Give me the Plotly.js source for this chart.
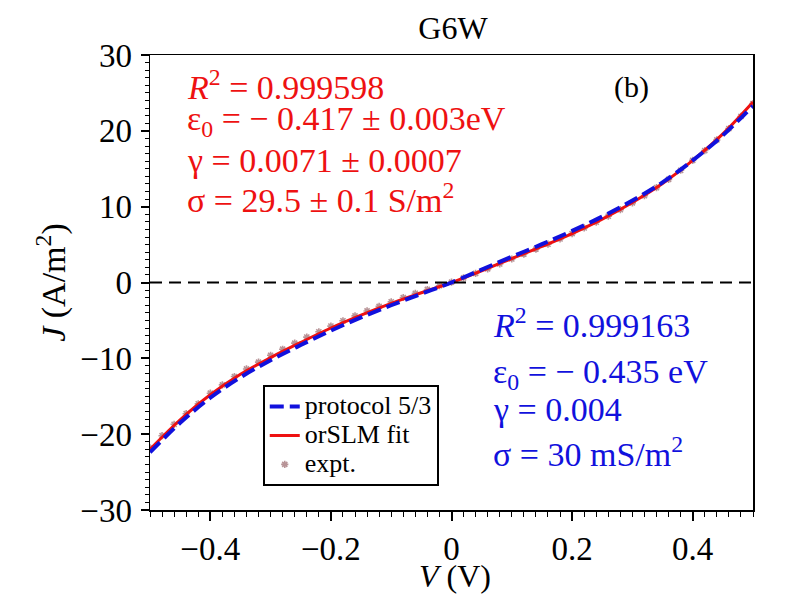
<!DOCTYPE html>
<html>
<head>
<meta charset="utf-8">
<script src="https://cdn.plot.ly/plotly-3.0.1.min.js"></script>
<style>html,body{margin:0;padding:0;background:#fff;}#chart{width:792px;height:612px;}</style>
</head>
<body>
<div id="chart"></div>
<script>
// Fit curves (V in volts, J in A/m^2)
const fitV = [-0.50,-0.45,-0.40,-0.35,-0.30,-0.25,-0.20,-0.15,-0.10,-0.05,0.00,0.05,0.10,0.15,0.20,0.25,0.30,0.35,0.40,0.45,0.50];
const orslmJ = [-22.0,-18.1,-14.8,-12.1,-9.9,-7.9,-6.0,-4.3,-2.75,-1.35,0.0,1.55,3.15,4.75,6.45,8.35,10.55,13.05,16.1,19.6,23.8];
const protocolJ = [-22.4,-18.5,-15.2,-12.5,-10.25,-8.25,-6.35,-4.6,-3.0,-1.5,0.0,1.7,3.4,5.05,6.8,8.7,10.8,13.2,16.1,19.4,23.3];

// Experimental points
const exptV = [-0.50,-0.48,-0.46,-0.44,-0.42,-0.40,-0.38,-0.36,-0.34,-0.32,-0.30,-0.28,-0.26,-0.24,-0.22,-0.20,-0.18,-0.16,-0.14,-0.12,-0.10,-0.08,-0.06,-0.04,-0.02,0.00,0.02,0.04,0.06,0.08,0.10,0.12,0.14,0.16,0.18,0.20,0.22,0.24,0.26,0.28,0.30,0.32,0.34,0.36,0.38,0.40,0.42,0.44,0.46,0.48,0.50];
const exptJ = [-21.8,-20.2,-18.7,-17.3,-16.0,-14.6,-13.5,-12.4,-11.4,-10.5,-9.6,-8.8,-8.0,-7.2,-6.5,-5.75,-5.05,-4.4,-3.75,-3.15,-2.55,-1.98,-1.42,-0.92,-0.42,0.05,0.6,1.2,1.8,2.45,3.1,3.75,4.4,5.05,5.75,6.45,7.2,7.95,8.75,9.6,10.5,11.45,12.5,13.6,14.8,16.1,17.4,18.8,20.3,21.9,23.6];

const xTickVals = [-0.4,-0.2,0,0.2,0.4];
const xTickText = ['\u22120.4','\u22120.2','0','0.2','0.4'];
const yTickVals = [-30,-20,-10,0,10,20,30];
const yTickText = ['\u221230','\u221220','\u221210','0','10','20','30'];

const seriesNames = ['protocol 5/3','orSLM fit','expt.'];
const redLines = ['<i>R</i><sup>2</sup> = 0.999598','ε<sub>0</sub> = \u2212 0.417 ± 0.003eV','γ = 0.0071 ± 0.0007','σ = 29.5 ± 0.1 S/m<sup>2</sup>'];
const blueLines = ['<i>R</i><sup>2</sup> = 0.999163','ε<sub>0</sub> = \u2212 0.435 eV','γ = 0.004','σ = 30 mS/m<sup>2</sup>'];

const FONT = 'Liberation Serif';
const big = s => '<span style="font-size:26px">' + s + '</span>';

const traces = [
  {x: exptV, y: exptJ, mode:'markers', name:big(seriesNames[2]), legendrank:3,
   marker:{symbol:'asterisk-open', size:6, color:'#b89497', line:{color:'#b89497', width:1.6}}},
  {x: fitV, y: orslmJ, mode:'lines', name:big(seriesNames[1]), legendrank:2, line:{color:'#ee1111', width:3, shape:'spline'}},
  {x: fitV, y: protocolJ, mode:'lines', name:big(seriesNames[0]), legendrank:1, line:{color:'#1111dd', width:4, dash:'14px,6px', shape:'spline'}}
];

const redY = [0.935, 0.855, 0.769, 0.685];
const blueY = [0.41, 0.298, 0.22, 0.128];
const annotations = [];
redLines.forEach((t,i)=>annotations.push({text:t, xref:'paper', yref:'paper', x:0.058, y:redY[i], xanchor:'left', yanchor:'middle', showarrow:false, font:{family:FONT, size:34, color:'#ee1111'}}));
blueLines.forEach((t,i)=>annotations.push({text:t, xref:'paper', yref:'paper', x:0.566, y:blueY[i], xanchor:'left', yanchor:'middle', showarrow:false, font:{family:FONT, size:34, color:'#1111dd'}}));
annotations.push({text:'(b)', xref:'paper', yref:'paper', x:0.798, y:0.93, xanchor:'center', yanchor:'middle', showarrow:false, font:{family:FONT, size:30, color:'#000'}});
annotations.push({text:'<i>V</i> (V)', xref:'paper', yref:'paper', x:0.505, y:-0.146, xanchor:'center', yanchor:'middle', showarrow:false, font:{family:FONT, size:32, color:'#000'}});

const layout = {
  width:792, height:612,
  margin:{l:150, r:39, t:55, b:102, pad:0},
  paper_bgcolor:'#fff', plot_bgcolor:'#fff',
  font:{family:FONT, color:'#000', size:16},
  title:{text:'G6W', font:{family:FONT, size:32, color:'#000'}, x:0.572, xanchor:'center', y:0.955, yanchor:'middle'},
  showlegend:true,
  legend:{x:0.187, y:0.275, xanchor:'left', yanchor:'top', bgcolor:'#fff', bordercolor:'#000', borderwidth:2,
          font:{family:FONT, size:20, color:'#000'}, tracegroupgap:0, itemwidth:30},
  xaxis:{range:[-0.5,0.5], tickmode:'array', tickvals:xTickVals, ticktext:xTickText,
         ticks:'outside', ticklen:9, tickwidth:2, tickcolor:'#000', showline:true, linecolor:'#000', linewidth:1.5, mirror:true,
         showgrid:false, zeroline:false, tickfont:{family:FONT, size:33, color:'#000'}, ticklabelstandoff:0,
         minor:{dtick:0.02, tick0:0, ticks:'outside', ticklen:5, tickwidth:1, tickcolor:'#000', showgrid:false}},
  yaxis:{range:[-30,30], tickmode:'array', tickvals:yTickVals, ticktext:yTickText,
         ticks:'outside', ticklen:8, tickwidth:2, tickcolor:'#000', showline:true, linecolor:'#000', linewidth:1.5, mirror:true,
         showgrid:false, zeroline:false, tickfont:{family:FONT, size:33, color:'#000'}, ticklabelstandoff:2,
         minor:{dtick:1, tick0:0, ticks:'outside', ticklen:4, tickwidth:1, tickcolor:'#000', showgrid:false},
         title:{text:'<i>J</i> (A/m<sup>2</sup>)', font:{family:FONT, size:34, color:'#000'}, standoff:4}},
  shapes:[{type:'line', xref:'paper', yref:'y', x0:0, x1:1, y0:0, y1:0, line:{color:'#000', width:2, dash:'12px,7px'}}],
  annotations: annotations
};

Plotly.newPlot('chart', traces, layout, {displayModeBar:false, staticPlot:true});
</script>
</body>
</html>
